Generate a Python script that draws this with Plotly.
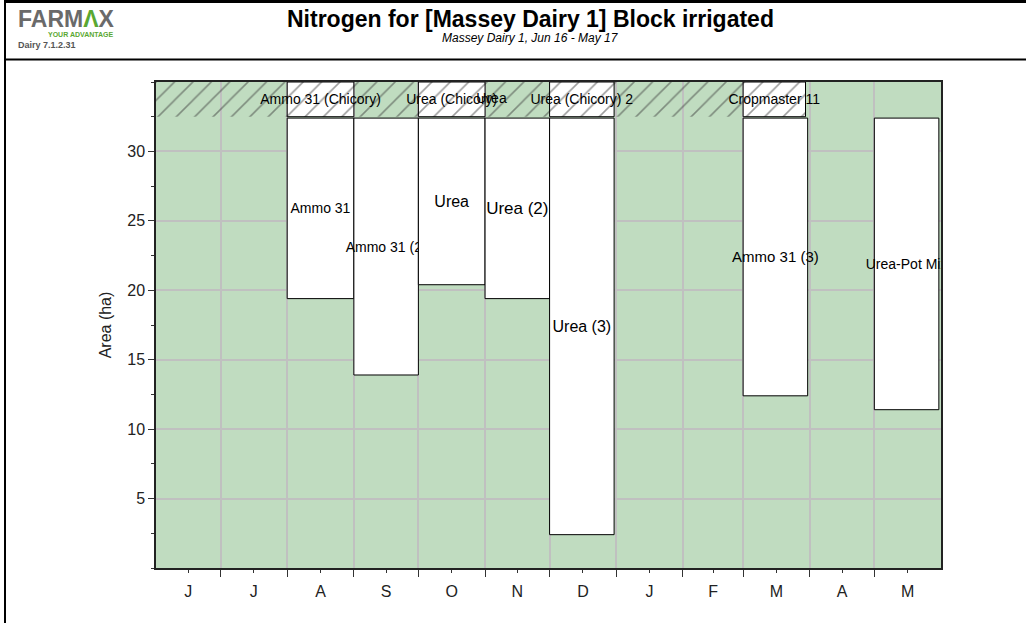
import plotly.graph_objects as go
import pandas as pd

# month axis, Jun 16 - May 17
month_starts = ['2016-06-01', '2016-07-01', '2016-08-01', '2016-09-01', '2016-10-01', '2016-11-01',
                '2016-12-01', '2017-01-01', '2017-02-01', '2017-03-01', '2017-04-01', '2017-05-01']
season_end = '2017-06-01'
month_letters = ['J', 'J', 'A', 'S', 'O', 'N', 'D', 'J', 'F', 'M', 'A', 'M']

# nitrogen applications (area bars)
app_names = ['Ammo 31', 'Ammo 31 (2)', 'Urea', 'Urea (2)', 'Urea (3)', 'Ammo 31 (3)', 'Urea-Pot Mix']
app_start = ['2016-08-01', '2016-09-01', '2016-10-01', '2016-11-01', '2016-12-01', '2017-03-01', '2017-05-01']
app_end = ['2016-09-01', '2016-10-01', '2016-11-01', '2016-12-01', '2016-12-31', '2017-03-31', '2017-05-31']
app_low = [19.4, 13.9, 20.4, 19.4, 2.4, 12.4, 11.4]
app_high = [32.4, 32.4, 32.4, 32.4, 32.4, 32.4, 32.4]

# crop band along the top
crop_period = ['2016-06-01', '2017-03-01']
crop_names = ['Ammo 31 (Chicory)', 'Urea (Chicory)', 'Urea (Chicory) 2', 'Cropmaster 11']
crop_start = ['2016-08-01', '2016-10-01', '2016-12-01', '2017-03-01']
crop_end = ['2016-09-01', '2016-11-01', '2016-12-31', '2017-03-30']
crop_extra_label = ['Urea']
crop_extra_date = ['2016-11-04']
band_low = 32.5
band_high = 35

GREEN = '#c0dcc0'
GRID = '#c0c0c0'
HATCH = '#3c3c3c'
FONT = 'Arial, Liberation Sans, sans-serif'

# plot area in pixels, used to place page decorations
L, R, T, B = 156, 941, 82, 568


def px_x(px):
    return (px - L) / (R - L)


def px_y(py):
    return (B - py) / (B - T)


ms = pd.to_datetime(month_starts)
ends = list(ms[1:]) + [pd.Timestamp(season_end)]
mids = [s + (e - s) / 2 for s, e in zip(ms, ends)]

a_start = pd.to_datetime(app_start)
a_end = pd.to_datetime(app_end)
a_width = [(e - s).total_seconds() * 1000 for s, e in zip(a_start, a_end)]

c_start = pd.to_datetime(crop_start)
c_end = pd.to_datetime(crop_end)
c_width = [(e - s).total_seconds() * 1000 for s, e in zip(c_start, c_end)]
p_start, p_end = pd.to_datetime(crop_period)

fig = go.Figure()

# hatched background of the band
fig.add_trace(go.Bar(
    x=[p_start], y=[band_high - band_low], base=[band_low],
    offset=0, width=[(p_end - p_start).total_seconds() * 1000],
    marker=dict(color='rgba(0,0,0,0)', line=dict(width=0),
                pattern=dict(shape='/', fgcolor=HATCH, bgcolor='rgba(0,0,0,0)', size=13, solidity=0.12)),
    hoverinfo='skip'
))

# crop boxes in the band
fig.add_trace(go.Bar(
    x=c_start, y=[band_high - band_low] * len(crop_names), base=[band_low] * len(crop_names),
    offset=0, width=c_width,
    marker=dict(color='white', line=dict(color='black', width=1),
                pattern=dict(shape='/', fgcolor=HATCH, bgcolor='white', size=13, solidity=0.12)),
    text=crop_names, textposition='inside', insidetextanchor='middle', constraintext='none',
    textangle=0, textfont=dict(size=14, color='black', family=FONT),
    hoverinfo='text', hovertext=crop_names
))

fig.add_trace(go.Scatter(
    x=pd.to_datetime(crop_extra_date), y=[(band_low + band_high) / 2] * len(crop_extra_label),
    mode='text', text=crop_extra_label, textfont=dict(size=14, color='black', family=FONT),
    hoverinfo='skip'
))

# application bars
fig.add_trace(go.Bar(
    x=a_start, y=[h - l for h, l in zip(app_high, app_low)], base=app_low,
    offset=0, width=a_width,
    marker=dict(color='white', line=dict(color='black', width=1)),
    text=app_names, textposition='inside', insidetextanchor='middle', constraintext='none',
    textangle=0, textfont=dict(size=[14, 14, 16, 17, 16, 15, 14], color='black', family=FONT),
    hovertemplate='%{text}<br>%{base} - %{y}<extra></extra>'
))

fig.update_xaxes(
    type='date', range=[ms[0], pd.Timestamp(season_end)],
    tickmode='array', tickvals=mids, ticktext=month_letters,
    ticks='outside', ticklen=3, tickcolor='#333', showgrid=False,
    minor=dict(tickmode='array', tickvals=ms[1:], ticks='outside', ticklen=7, tickcolor='#333',
               showgrid=True, gridcolor=GRID, gridwidth=1.5),
    showline=True, linecolor='#222', linewidth=1.5, mirror=True,
    tickfont=dict(size=16, color='#222'), ticklabelstandoff=5, zeroline=False
)
fig.update_yaxes(
    range=[0, band_high], tickmode='array', tickvals=[5, 10, 15, 20, 25, 30],
    ticks='outside', ticklen=6, tickcolor='#333',
    minor=dict(tickmode='linear', tick0=0, dtick=2.5, ticks='outside', ticklen=3, tickcolor='#333', showgrid=False),
    showgrid=True, gridcolor=GRID, gridwidth=1.5,
    showline=True, linecolor='#222', linewidth=1.5, mirror=True,
    tickfont=dict(size=16, color='#222'), zeroline=False,
    title=dict(text='Area (ha)', font=dict(size=16, color='#222'), standoff=12)
)

fig.update_layout(
    width=1026, height=623,
    margin=dict(l=L, r=1026 - R, t=T, b=623 - B, autoexpand=False),
    plot_bgcolor=GREEN, paper_bgcolor='white',
    barmode='overlay', showlegend=False,
    font=dict(family=FONT, color='black'),
    shapes=[
        dict(type='line', xref='paper', yref='paper', x0=px_x(4), x1=px_x(1030), y0=px_y(1.5), y1=px_y(1.5),
             line=dict(color='black', width=3)),
        dict(type='line', xref='paper', yref='paper', x0=px_x(5), x1=px_x(1030), y0=px_y(59.5), y1=px_y(59.5),
             line=dict(color='black', width=2)),
        dict(type='line', xref='paper', yref='paper', x0=px_x(5), x1=px_x(5), y0=px_y(0), y1=px_y(630),
             line=dict(color='black', width=2)),
    ],
    annotations=[
        dict(text='Nitrogen for [Massey Dairy 1] Block irrigated', xref='paper', yref='paper',
             x=px_x(530), y=px_y(19), xanchor='center', yanchor='middle', showarrow=False,
             font=dict(size=23, color='black', weight='bold')),
        dict(text='<i>Massey Dairy 1, Jun 16 - May 17</i>', xref='paper', yref='paper',
             x=px_x(530), y=px_y(38), xanchor='center', yanchor='middle', showarrow=False,
             font=dict(size=12, color='black')),
        dict(text="<b>FARM<span style='color:#5aa832'>Λ</span>X</b>", xref='paper', yref='paper',
             x=px_x(16), y=px_y(19), xanchor='left', yanchor='middle', showarrow=False,
             font=dict(size=23, color='#6a6a6a')),
        dict(text='<b>YOUR ADVANTAGE</b>', xref='paper', yref='paper',
             x=px_x(116), y=px_y(35), xanchor='right', yanchor='middle', showarrow=False,
             font=dict(size=7, color='#5aa832')),
        dict(text='<b>Dairy 7.1.2.31</b>', xref='paper', yref='paper',
             x=px_x(16), y=px_y(45), xanchor='left', yanchor='middle', showarrow=False,
             font=dict(size=9, color='#555555')),
    ]
)

# drop the default page margin so the figure sits at the window's corner
fig.write_html('out.html', config={'displayModeBar': False},
               post_script="document.body.style.margin='0';")
